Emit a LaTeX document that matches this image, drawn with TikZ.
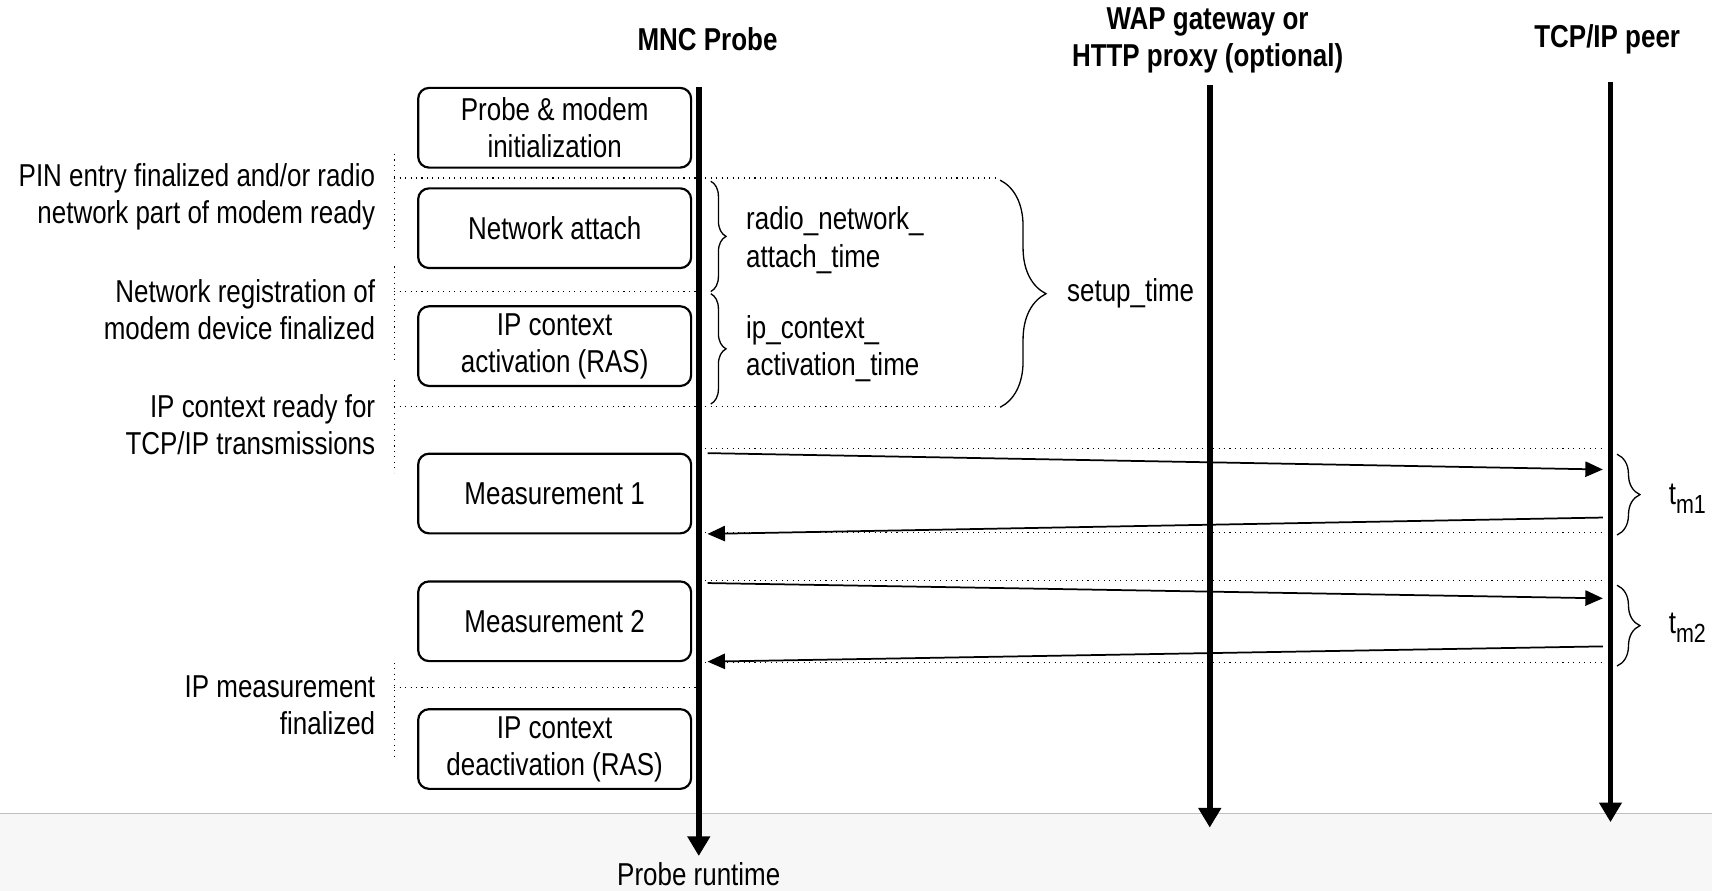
\documentclass[tikz,border=0pt]{standalone}
\usepackage{fontspec}
\setmainfont{Liberation Sans}[FakeStretch=0.82]
\usepackage{tikz}
\usetikzlibrary{arrows.meta, decorations.pathreplacing}

\begin{document}
\begin{tikzpicture}[
    x=0.5pt, y=-0.5pt,
    every node/.style={font=\fontsize{14.5}{17}\selectfont, inner sep=0pt},
    headstyle/.style={font=\fontsize{14.5}{17}\selectfont\bfseries, align=center},
    phasebox/.style={rectangle, rounded corners=5pt, draw, line width=1pt,
        minimum width=125pt, minimum height=36.5pt, align=center},
    notestyle/.style={align=right, anchor=east},
    timestyle/.style={align=left, anchor=west},
    lifeline/.style={line width=2.5pt, -{Triangle[width=10pt,length=9pt]}},
    msgstyle/.style={line width=0.8pt, -{Triangle[width=7pt,length=8pt]}},
    guide/.style={dotted, line width=0.5pt},
    bracestyle/.style={decorate, decoration={brace, amplitude=#1}, line width=0.6pt}
]

\useasboundingbox (0,0) rectangle (1568,816);
\fill[black!3] (0,745) rectangle (1568,816);
\draw[black!25, line width=0.6pt] (0,745) -- (1568,745);

\node[headstyle] (probehead) at (648,36) {MNC Probe};
\node[headstyle] (waphead) at (1106,37) {WAP gateway or\\HTTP proxy (optional)};
\node[headstyle] (peerhead) at (1472,36) {TCP/IP peer};

\coordinate (probetop) at (640,80);
\coordinate (probeend) at (640,784);
\coordinate (waptop) at (1108,78);
\coordinate (wapend) at (1108,758);
\coordinate (peertop) at (1475,75);
\coordinate (peerend) at (1475,753);

\draw[guide] (361,163) -- (915,163);
\draw[guide] (361,267) -- (640,267);
\draw[guide] (361,372) -- (915,372);
\draw[guide] (361,630) -- (640,630);
\foreach \y in {411,488,532,607}
    \draw[guide] (646,\y) -- (1468,\y);

\draw[guide] (361,141) -- (361,227);
\draw[guide] (361,244) -- (361,330);
\draw[guide] (361,348) -- (361,433);
\draw[guide] (361,607) -- (361,693);

\draw[lifeline] (probetop) -- (probeend);
\draw[lifeline] (waptop) -- (wapend);
\draw[lifeline] (peertop) -- (peerend);
\node (runtime) at (640,801) {Probe runtime};

\node[phasebox] (init) at (508,117) {Probe \& modem\\initialization};
\node[phasebox] (attach) at (508,209) {Network attach};
\node[phasebox] (ipact) at (508,317) {IP context\\activation (RAS)};
\node[phasebox] (meas1) at (508,452) {Measurement 1};
\node[phasebox] (meas2) at (508,569) {Measurement 2};
\node[phasebox] (ipdeact) at (508,686) {IP context\\deactivation (RAS)};

\node[notestyle] (pinready) at (344,180) {PIN entry finalized and/or radio\\network part of modem ready};
\node[notestyle] (regdone) at (344,284) {Network registration of\\modem device finalized};
\node[notestyle] (ipready) at (344,389) {IP context ready for\\TCP/IP transmissions};
\node[notestyle] (measdone) at (344,646) {IP measurement\\finalized};

\draw[bracestyle=7pt] (651,166) -- (651,267);
\draw[bracestyle=7pt] (651,269) -- (651,370);
\draw[bracestyle=21pt] (916,165) -- (916,373);
\node[timestyle] (attachtime) at (683,220) {radio\_network\_\\attach\_time};
\node[timestyle] (ipacttime) at (683,319) {ip\_context\_\\activation\_time};
\node[timestyle] (setuptime) at (977,269) {setup\_time};

\coordinate (req1s) at (648,415);
\coordinate (req1e) at (1468,430);
\coordinate (rep1s) at (1468,474);
\coordinate (rep1e) at (648,489);
\coordinate (req2s) at (648,534);
\coordinate (req2e) at (1468,548);
\coordinate (rep2s) at (1468,592);
\coordinate (rep2e) at (648,606);
\draw[msgstyle] (req1s) -- (req1e);
\draw[msgstyle] (rep1s) -- (rep1e);
\draw[msgstyle] (req2s) -- (req2e);
\draw[msgstyle] (rep2s) -- (rep2e);

\draw[bracestyle=10.5pt] (1481,416) -- (1481,490);
\draw[bracestyle=10.5pt] (1481,536) -- (1481,610);
\node[timestyle] (tm1) at (1528,457) {t\raisebox{-0.28em}{\fontsize{12}{12}\selectfont m1}};
\node[timestyle] (tm2) at (1528,575) {t\raisebox{-0.28em}{\fontsize{12}{12}\selectfont m2}};

\end{tikzpicture}
\end{document}
